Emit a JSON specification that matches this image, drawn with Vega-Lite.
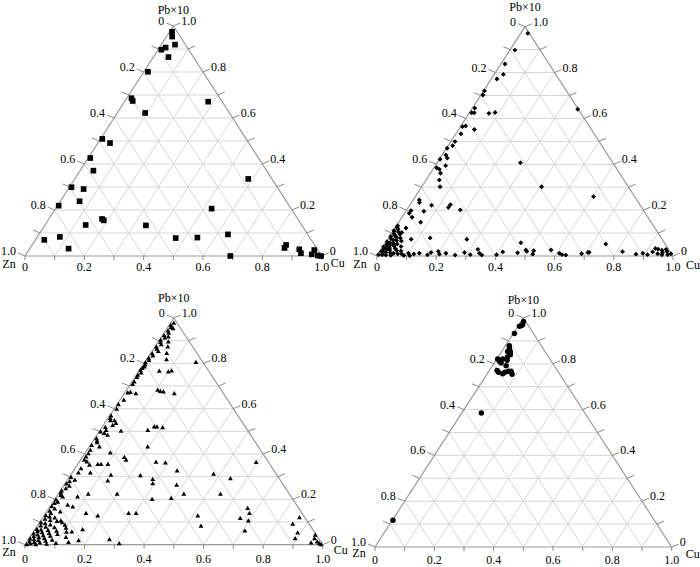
{
"$schema":"https://vega.github.io/schema/vega-lite/v6.json",
"padding":0,"spacing":0,"bounds":"flush","columns":2,
"config":{"view":{"stroke":null},"text":{"font":"Liberation Serif, Times New Roman, serif","fontSize":12,"color":"#000"}},
"datasets":{
"grid":[
{"k":"g","cu":0,"pb":0.1,"cu2":0.9,"pb2":0.1},{"k":"g","cu":0.1,"pb":0,"cu2":0.1,"pb2":0.9},{"k":"g","cu":0.9,"pb":0,"cu2":0,"pb2":0.9},
{"k":"g","cu":0,"pb":0.2,"cu2":0.8,"pb2":0.2},{"k":"g","cu":0.2,"pb":0,"cu2":0.2,"pb2":0.8},{"k":"g","cu":0.8,"pb":0,"cu2":0,"pb2":0.8},
{"k":"g","cu":0,"pb":0.3,"cu2":0.7,"pb2":0.3},{"k":"g","cu":0.3,"pb":0,"cu2":0.3,"pb2":0.7},{"k":"g","cu":0.7,"pb":0,"cu2":0,"pb2":0.7},
{"k":"g","cu":0,"pb":0.4,"cu2":0.6,"pb2":0.4},{"k":"g","cu":0.4,"pb":0,"cu2":0.4,"pb2":0.6},{"k":"g","cu":0.6,"pb":0,"cu2":0,"pb2":0.6},
{"k":"g","cu":0,"pb":0.5,"cu2":0.5,"pb2":0.5},{"k":"g","cu":0.5,"pb":0,"cu2":0.5,"pb2":0.5},{"k":"g","cu":0.5,"pb":0,"cu2":0,"pb2":0.5},
{"k":"g","cu":0,"pb":0.6,"cu2":0.4,"pb2":0.6},{"k":"g","cu":0.6,"pb":0,"cu2":0.6,"pb2":0.4},{"k":"g","cu":0.4,"pb":0,"cu2":0,"pb2":0.4},
{"k":"g","cu":0,"pb":0.7,"cu2":0.3,"pb2":0.7},{"k":"g","cu":0.7,"pb":0,"cu2":0.7,"pb2":0.3},{"k":"g","cu":0.3,"pb":0,"cu2":0,"pb2":0.3},
{"k":"g","cu":0,"pb":0.8,"cu2":0.2,"pb2":0.8},{"k":"g","cu":0.8,"pb":0,"cu2":0.8,"pb2":0.2},{"k":"g","cu":0.2,"pb":0,"cu2":0,"pb2":0.2},
{"k":"g","cu":0,"pb":0.9,"cu2":0.1,"pb2":0.9},{"k":"g","cu":0.9,"pb":0,"cu2":0.9,"pb2":0.1},{"k":"g","cu":0.1,"pb":0,"cu2":0,"pb2":0.1},
{"k":"b","cu":0,"pb":0,"cu2":1,"pb2":0},{"k":"b","cu":0,"pb":0,"cu2":0,"pb2":1},{"k":"b","cu":1,"pb":0,"cu2":0,"pb2":1}
],
"ticks":[
{"s":"L","cu":0,"pb":1,"lab":"0"},{"s":"L","cu":0,"pb":0.9,"lab":""},{"s":"L","cu":0,"pb":0.8,"lab":"0.2"},{"s":"L","cu":0,"pb":0.7,"lab":""},{"s":"L","cu":0,"pb":0.6,"lab":"0.4"},{"s":"L","cu":0,"pb":0.5,"lab":""},{"s":"L","cu":0,"pb":0.4,"lab":"0.6"},{"s":"L","cu":0,"pb":0.3,"lab":""},{"s":"L","cu":0,"pb":0.2,"lab":"0.8"},{"s":"L","cu":0,"pb":0.1,"lab":""},{"s":"L","cu":0,"pb":0,"lab":"1.0"},
{"s":"R","cu":1,"pb":0,"lab":"0"},{"s":"R","cu":0.9,"pb":0.1,"lab":""},{"s":"R","cu":0.8,"pb":0.2,"lab":"0.2"},{"s":"R","cu":0.7,"pb":0.3,"lab":""},{"s":"R","cu":0.6,"pb":0.4,"lab":"0.4"},{"s":"R","cu":0.5,"pb":0.5,"lab":""},{"s":"R","cu":0.4,"pb":0.6,"lab":"0.6"},{"s":"R","cu":0.3,"pb":0.7,"lab":""},{"s":"R","cu":0.2,"pb":0.8,"lab":"0.8"},{"s":"R","cu":0.1,"pb":0.9,"lab":""},{"s":"R","cu":0,"pb":1,"lab":"1.0"},
{"s":"B","cu":0,"pb":0,"lab":"0"},{"s":"B","cu":0.1,"pb":0,"lab":""},{"s":"B","cu":0.2,"pb":0,"lab":"0.2"},{"s":"B","cu":0.3,"pb":0,"lab":""},{"s":"B","cu":0.4,"pb":0,"lab":"0.4"},{"s":"B","cu":0.5,"pb":0,"lab":""},{"s":"B","cu":0.6,"pb":0,"lab":"0.6"},{"s":"B","cu":0.7,"pb":0,"lab":""},{"s":"B","cu":0.8,"pb":0,"lab":"0.8"},{"s":"B","cu":0.9,"pb":0,"lab":""},{"s":"B","cu":1,"pb":0,"lab":"1.0"}
],
"vert":[{"v":"Zn","cu":0,"pb":0},{"v":"Cu","cu":1,"pb":0},{"v":"Pb×10","cu":0,"pb":1}],
"pts":[
{"p":"a","cu":0.008,"pb":0.975},{"p":"a","cu":0.019,"pb":0.954},{"p":"a","cu":0.046,"pb":0.919},{"p":"a","cu":0.021,"pb":0.906},{"p":"a","cu":0.011,"pb":0.897},{"p":"a","cu":0.051,"pb":0.865},{"p":"a","cu":0.014,"pb":0.801},{"p":"a","cu":0.016,"pb":0.686},{"p":"a","cu":0.026,"pb":0.674},{"p":"a","cu":0.282,"pb":0.671},{"p":"a","cu":0.094,"pb":0.622},{"p":"a","cu":0.006,"pb":0.509},{"p":"a","cu":0.041,"pb":0.491},{"p":"a","cu":0.007,"pb":0.426},{"p":"a","cu":0.045,"pb":0.371},{"p":"a","cu":0.585,"pb":0.335},{"p":"a","cu":0.007,"pb":0.299},{"p":"a","cu":0.052,"pb":0.291},{"p":"a","cu":0.065,"pb":0.238},{"p":"a","cu":0.004,"pb":0.219},{"p":"a","cu":0.526,"pb":0.206},{"p":"a","cu":0.179,"pb":0.161},{"p":"a","cu":0.188,"pb":0.155},{"p":"a","cu":0.137,"pb":0.135},{"p":"a","cu":0.341,"pb":0.133},{"p":"a","cu":0.637,"pb":0.094},{"p":"a","cu":0.076,"pb":0.083},{"p":"a","cu":0.03,"pb":0.07},{"p":"a","cu":0.469,"pb":0.078},{"p":"a","cu":0.541,"pb":0.08},{"p":"a","cu":0.131,"pb":0.032},{"p":"a","cu":0.692,"pb":0.0},{"p":"a","cu":0.856,"pb":0.048},{"p":"a","cu":0.857,"pb":0.035},{"p":"a","cu":0.91,"pb":0.029},{"p":"a","cu":0.924,"pb":0.012},{"p":"a","cu":0.962,"pb":0.026},{"p":"a","cu":0.963,"pb":0.007},{"p":"a","cu":0.986,"pb":0.002},{"p":"a","cu":0.998,"pb":0.0},
{"p":"b","cu":0.024,"pb":0.971},{"p":"b","cu":0.017,"pb":0.898},{"p":"b","cu":0.014,"pb":0.837},{"p":"b","cu":0.031,"pb":0.792},{"p":"b","cu":0.019,"pb":0.772},{"p":"b","cu":0.003,"pb":0.72},{"p":"b","cu":0.007,"pb":0.702},{"p":"b","cu":0.358,"pb":0.64},{"p":"b","cu":0.008,"pb":0.645},{"p":"b","cu":0.007,"pb":0.625},{"p":"b","cu":0.016,"pb":0.625},{"p":"b","cu":0.067,"pb":0.622},{"p":"b","cu":0.086,"pb":0.626},{"p":"b","cu":0.007,"pb":0.564},{"p":"b","cu":0.016,"pb":0.567},{"p":"b","cu":0.053,"pb":0.552},{"p":"b","cu":0.017,"pb":0.533},{"p":"b","cu":0.014,"pb":0.499},{"p":"b","cu":0.015,"pb":0.481},{"p":"b","cu":0.002,"pb":0.47},{"p":"b","cu":0.013,"pb":0.44},{"p":"b","cu":0.024,"pb":0.427},{"p":"b","cu":0.002,"pb":0.422},{"p":"b","cu":0.281,"pb":0.407},{"p":"b","cu":0.035,"pb":0.394},{"p":"b","cu":0.009,"pb":0.385},{"p":"b","cu":0.022,"pb":0.378},{"p":"b","cu":0.034,"pb":0.361},{"p":"b","cu":0.045,"pb":0.331},{"p":"b","cu":0.062,"pb":0.302},{"p":"b","cu":0.405,"pb":0.302},{"p":"b","cu":0.602,"pb":0.259},{"p":"b","cu":0.021,"pb":0.244},{"p":"b","cu":0.027,"pb":0.233},{"p":"b","cu":0.074,"pb":0.221},{"p":"b","cu":0.136,"pb":0.224},{"p":"b","cu":0.135,"pb":0.212},{"p":"b","cu":0.016,"pb":0.198},{"p":"b","cu":0.016,"pb":0.186},{"p":"b","cu":0.061,"pb":0.195},{"p":"b","cu":0.181,"pb":0.201},{"p":"b","cu":0.034,"pb":0.169},{"p":"b","cu":0.074,"pb":0.147},{"p":"b","cu":0.004,"pb":0.132},{"p":"b","cu":0.037,"pb":0.122},{"p":"b","cu":0.004,"pb":0.109},{"p":"b","cu":0.032,"pb":0.103},{"p":"b","cu":0.079,"pb":0.073},{"p":"b","cu":0.14,"pb":0.079},{"p":"b","cu":0.267,"pb":0.073},{"p":"b","cu":0.457,"pb":0.058},{"p":"b","cu":0.747,"pb":0.052},{"p":"b","cu":0.326,"pb":0.029},{"p":"b","cu":0.575,"pb":0.026},{"p":"b","cu":0.49,"pb":0.026},{"p":"b","cu":0.518,"pb":0.023},{"p":"b","cu":0.82,"pb":0.019},{"p":"b","cu":0.709,"pb":0.016},{"p":"b","cu":0.962,"pb":0.029},{"p":"b","cu":0.924,"pb":0.033},
{"p":"b","cu":0.137,"pb":0.012},{"p":"b","cu":0.168,"pb":0.005},{"p":"b","cu":0.175,"pb":0.015},{"p":"b","cu":0.197,"pb":0.02},{"p":"b","cu":0.207,"pb":0.008},{"p":"b","cu":0.227,"pb":0.012},{"p":"b","cu":0.262,"pb":0.004},{"p":"b","cu":0.288,"pb":0.015},{"p":"b","cu":0.312,"pb":0.006},{"p":"b","cu":0.34,"pb":0.012},{"p":"b","cu":0.352,"pb":0.004},{"p":"b","cu":0.401,"pb":0.006},{"p":"b","cu":0.416,"pb":0.018},{"p":"b","cu":0.468,"pb":0.014},{"p":"b","cu":0.496,"pb":0.02},{"p":"b","cu":0.522,"pb":0.008},{"p":"b","cu":0.61,"pb":0.012},{"p":"b","cu":0.622,"pb":0.006},{"p":"b","cu":0.636,"pb":0.004},{"p":"b","cu":0.686,"pb":0.01},{"p":"b","cu":0.705,"pb":0.015},{"p":"b","cu":0.871,"pb":0.008},{"p":"b","cu":0.892,"pb":0.012},{"p":"b","cu":0.911,"pb":0.006},{"p":"b","cu":0.922,"pb":0.018},{"p":"b","cu":0.943,"pb":0.01},{"p":"b","cu":0.957,"pb":0.015},{"p":"b","cu":0.979,"pb":0.006},{"p":"b","cu":0.988,"pb":0.01},{"p":"b","cu":0.95,"pb":0.025},{"p":"b","cu":0.935,"pb":0.03},{"p":"b","cu":0.97,"pb":0.02},{"p":"b","cu":0.96,"pb":0.005},
{"p":"b","cu":0.005,"pb":0.125},{"p":"b","cu":0.012,"pb":0.118},{"p":"b","cu":0.002,"pb":0.11},{"p":"b","cu":0.02,"pb":0.105},{"p":"b","cu":0.008,"pb":0.098},{"p":"b","cu":0.03,"pb":0.095},{"p":"b","cu":0.015,"pb":0.09},{"p":"b","cu":0.004,"pb":0.085},{"p":"b","cu":0.025,"pb":0.082},{"p":"b","cu":0.04,"pb":0.078},{"p":"b","cu":0.01,"pb":0.075},{"p":"b","cu":0.02,"pb":0.07},{"p":"b","cu":0.032,"pb":0.068},{"p":"b","cu":0.05,"pb":0.065},{"p":"b","cu":0.003,"pb":0.062},{"p":"b","cu":0.015,"pb":0.058},{"p":"b","cu":0.028,"pb":0.055},{"p":"b","cu":0.042,"pb":0.052},{"p":"b","cu":0.008,"pb":0.05},{"p":"b","cu":0.02,"pb":0.047},{"p":"b","cu":0.035,"pb":0.045},{"p":"b","cu":0.06,"pb":0.042},{"p":"b","cu":0.002,"pb":0.04},{"p":"b","cu":0.013,"pb":0.038},{"p":"b","cu":0.025,"pb":0.035},{"p":"b","cu":0.045,"pb":0.033},{"p":"b","cu":0.007,"pb":0.03},{"p":"b","cu":0.018,"pb":0.028},{"p":"b","cu":0.03,"pb":0.026},{"p":"b","cu":0.055,"pb":0.024},{"p":"b","cu":0.07,"pb":0.022},{"p":"b","cu":0.004,"pb":0.02},{"p":"b","cu":0.012,"pb":0.018},{"p":"b","cu":0.022,"pb":0.016},{"p":"b","cu":0.038,"pb":0.014},{"p":"b","cu":0.05,"pb":0.012},{"p":"b","cu":0.065,"pb":0.01},{"p":"b","cu":0.08,"pb":0.008},{"p":"b","cu":0.002,"pb":0.006},{"p":"b","cu":0.015,"pb":0.005},{"p":"b","cu":0.028,"pb":0.004},{"p":"b","cu":0.045,"pb":0.003},{"p":"b","cu":0.09,"pb":0.002},{"p":"b","cu":0.11,"pb":0.001},{"p":"b","cu":0.1,"pb":0.012},{"p":"b","cu":0.12,"pb":0.009},
{"p":"c","cu":0.01,"pb":0.98},{"p":"c","cu":0.005,"pb":0.97},{"p":"c","cu":0.01,"pb":0.96},{"p":"c","cu":0.02,"pb":0.955},{"p":"c","cu":0.008,"pb":0.945},{"p":"c","cu":0.015,"pb":0.935},{"p":"c","cu":0.005,"pb":0.925},{"p":"c","cu":0.012,"pb":0.915},{"p":"c","cu":0.003,"pb":0.905},{"p":"c","cu":0.008,"pb":0.895},{"p":"c","cu":0.015,"pb":0.885},{"p":"c","cu":0.004,"pb":0.875},{"p":"c","cu":0.01,"pb":0.865},{"p":"c","cu":0.02,"pb":0.855},{"p":"c","cu":0.005,"pb":0.845},{"p":"c","cu":0.012,"pb":0.835},{"p":"c","cu":0.003,"pb":0.825},{"p":"c","cu":0.009,"pb":0.815},{"p":"c","cu":0.002,"pb":0.805},{"p":"c","cu":0.006,"pb":0.795},{"p":"c","cu":0.004,"pb":0.78},{"p":"c","cu":0.01,"pb":0.76},{"p":"c","cu":0.004,"pb":0.75},
{"p":"c","cu":0.022,"pb":0.919},{"p":"c","cu":0.033,"pb":0.897},{"p":"c","cu":0.042,"pb":0.875},{"p":"c","cu":0.053,"pb":0.846},{"p":"c","cu":0.066,"pb":0.819},{"p":"c","cu":0.171,"pb":0.806},{"p":"c","cu":0.067,"pb":0.768},{"p":"c","cu":0.099,"pb":0.765},{"p":"c","cu":0.108,"pb":0.769},{"p":"c","cu":0.002,"pb":0.772},{"p":"c","cu":0.007,"pb":0.787},{"p":"c","cu":0.006,"pb":0.74},{"p":"c","cu":0.007,"pb":0.72},{"p":"c","cu":0.007,"pb":0.709},{"p":"c","cu":0.009,"pb":0.672},{"p":"c","cu":0.017,"pb":0.674},{"p":"c","cu":0.038,"pb":0.669},{"p":"c","cu":0.104,"pb":0.684},{"p":"c","cu":0.115,"pb":0.679},{"p":"c","cu":0.127,"pb":0.676},{"p":"c","cu":0.167,"pb":0.669},
{"p":"c","cu":0.007,"pb":0.559},{"p":"c","cu":0.026,"pb":0.549},{"p":"c","cu":0.037,"pb":0.537},{"p":"c","cu":0.03,"pb":0.529},{"p":"c","cu":0.019,"pb":0.507},{"p":"c","cu":0.02,"pb":0.493},{"p":"c","cu":0.035,"pb":0.485},{"p":"c","cu":0.071,"pb":0.503},{"p":"c","cu":0.173,"pb":0.522},{"p":"c","cu":0.182,"pb":0.522},{"p":"c","cu":0.203,"pb":0.519},{"p":"c","cu":0.159,"pb":0.507},{"p":"c","cu":0.195,"pb":0.434},{"p":"c","cu":0.016,"pb":0.452},{"p":"c","cu":0.033,"pb":0.434},{"p":"c","cu":0.01,"pb":0.419},{"p":"c","cu":0.011,"pb":0.404},{"p":"c","cu":0.01,"pb":0.39},{"p":"c","cu":0.012,"pb":0.375},{"p":"c","cu":0.024,"pb":0.368},{"p":"c","cu":0.04,"pb":0.353},{"p":"c","cu":0.066,"pb":0.357},{"p":"c","cu":0.077,"pb":0.357},{"p":"c","cu":0.1,"pb":0.357},{"p":"c","cu":0.083,"pb":0.407},{"p":"c","cu":0.14,"pb":0.387},{"p":"c","cu":0.152,"pb":0.375},{"p":"c","cu":0.257,"pb":0.366},{"p":"c","cu":0.29,"pb":0.363},{"p":"c","cu":0.347,"pb":0.328},{"p":"c","cu":0.594,"pb":0.365},{"p":"c","cu":0.019,"pb":0.338},{"p":"c","cu":0.02,"pb":0.319},{"p":"c","cu":0.06,"pb":0.319},{"p":"c","cu":0.134,"pb":0.309},{"p":"c","cu":0.234,"pb":0.307},{"p":"c","cu":0.284,"pb":0.29},{"p":"c","cu":0.293,"pb":0.272},{"p":"c","cu":0.377,"pb":0.265},{"p":"c","cu":0.477,"pb":0.313},{"p":"c","cu":0.543,"pb":0.294},{"p":"c","cu":0.136,"pb":0.284},{"p":"c","cu":0.005,"pb":0.299},{"p":"c","cu":0.019,"pb":0.26},{"p":"c","cu":0.024,"pb":0.287},{"p":"c","cu":0.1,"pb":0.225},{"p":"c","cu":0.07,"pb":0.213},{"p":"c","cu":0.005,"pb":0.231},{"p":"c","cu":0.02,"pb":0.213},{"p":"c","cu":0.007,"pb":0.184},{"p":"c","cu":0.055,"pb":0.177},{"p":"c","cu":0.076,"pb":0.169},{"p":"c","cu":0.197,"pb":0.225},{"p":"c","cu":0.326,"pb":0.202},{"p":"c","cu":0.388,"pb":0.206},{"p":"c","cu":0.421,"pb":0.225},{"p":"c","cu":0.544,"pb":0.225},{"p":"c","cu":0.017,"pb":0.14},{"p":"c","cu":0.045,"pb":0.147},{"p":"c","cu":0.067,"pb":0.107},{"p":"c","cu":0.135,"pb":0.14},{"p":"c","cu":0.18,"pb":0.129},{"p":"c","cu":0.278,"pb":0.14},{"p":"c","cu":0.303,"pb":0.14},{"p":"c","cu":0.516,"pb":0.129},{"p":"c","cu":0.667,"pb":0.162},{"p":"c","cu":0.684,"pb":0.14},{"p":"c","cu":0.664,"pb":0.118},{"p":"c","cu":0.697,"pb":0.107},{"p":"c","cu":0.861,"pb":0.122},{"p":"c","cu":0.853,"pb":0.093},{"p":"c","cu":0.889,"pb":0.054},{"p":"c","cu":0.893,"pb":0.029},{"p":"c","cu":0.549,"pb":0.084},{"p":"c","cu":0.707,"pb":0.063},{"p":"c","cu":0.159,"pb":0.069},{"p":"c","cu":0.128,"pb":0.059},{"p":"c","cu":0.271,"pb":0.025},{"p":"c","cu":0.313,"pb":0.007},
{"p":"c","cu":0.958,"pb":0.029},{"p":"c","cu":0.974,"pb":0.015},{"p":"c","cu":0.985,"pb":0.007},{"p":"c","cu":0.956,"pb":0.01},{"p":"c","cu":0.993,"pb":0.003},{"p":"c","cu":0.953,"pb":0.044},
{"p":"c","cu":0.005,"pb":0.13},{"p":"c","cu":0.02,"pb":0.125},{"p":"c","cu":0.04,"pb":0.12},{"p":"c","cu":0.01,"pb":0.115},{"p":"c","cu":0.03,"pb":0.11},{"p":"c","cu":0.055,"pb":0.105},{"p":"c","cu":0.004,"pb":0.1},{"p":"c","cu":0.075,"pb":0.1},{"p":"c","cu":0.02,"pb":0.095},{"p":"c","cu":0.04,"pb":0.09},{"p":"c","cu":0.09,"pb":0.088},{"p":"c","cu":0.01,"pb":0.085},{"p":"c","cu":0.03,"pb":0.08},{"p":"c","cu":0.06,"pb":0.078},{"p":"c","cu":0.1,"pb":0.075},{"p":"c","cu":0.005,"pb":0.07},{"p":"c","cu":0.02,"pb":0.068},{"p":"c","cu":0.045,"pb":0.065},{"p":"c","cu":0.075,"pb":0.062},{"p":"c","cu":0.012,"pb":0.06},{"p":"c","cu":0.11,"pb":0.058},{"p":"c","cu":0.03,"pb":0.055},{"p":"c","cu":0.055,"pb":0.052},{"p":"c","cu":0.004,"pb":0.05},{"p":"c","cu":0.085,"pb":0.048},{"p":"c","cu":0.02,"pb":0.045},{"p":"c","cu":0.04,"pb":0.042},{"p":"c","cu":0.065,"pb":0.04},{"p":"c","cu":0.01,"pb":0.038},{"p":"c","cu":0.12,"pb":0.035},{"p":"c","cu":0.03,"pb":0.033},{"p":"c","cu":0.05,"pb":0.03},{"p":"c","cu":0.003,"pb":0.028},{"p":"c","cu":0.018,"pb":0.025},{"p":"c","cu":0.08,"pb":0.022},{"p":"c","cu":0.035,"pb":0.02},{"p":"c","cu":0.06,"pb":0.018},{"p":"c","cu":0.008,"pb":0.015},{"p":"c","cu":0.025,"pb":0.012},{"p":"c","cu":0.045,"pb":0.01},{"p":"c","cu":0.1,"pb":0.008},{"p":"c","cu":0.015,"pb":0.006},{"p":"c","cu":0.07,"pb":0.005},{"p":"c","cu":0.004,"pb":0.003},{"p":"c","cu":0.035,"pb":0.002},{"p":"c","cu":0.14,"pb":0.012},{"p":"c","cu":0.17,"pb":0.02},
{"p":"c","cu":0.01,"pb":0.28},{"p":"c","cu":0.005,"pb":0.27},{"p":"c","cu":0.012,"pb":0.25},{"p":"c","cu":0.003,"pb":0.24},{"p":"c","cu":0.01,"pb":0.22},{"p":"c","cu":0.004,"pb":0.2},{"p":"c","cu":0.015,"pb":0.19},{"p":"c","cu":0.005,"pb":0.17},{"p":"c","cu":0.02,"pb":0.16},{"p":"c","cu":0.008,"pb":0.15},{"p":"c","cu":0.005,"pb":0.47},{"p":"c","cu":0.012,"pb":0.46},{"p":"c","cu":0.004,"pb":0.44},{"p":"c","cu":0.01,"pb":0.52},{"p":"c","cu":0.004,"pb":0.5},{"p":"c","cu":0.012,"pb":0.55},{"p":"c","cu":0.004,"pb":0.57},{"p":"c","cu":0.008,"pb":0.6},{"p":"c","cu":0.004,"pb":0.62},{"p":"c","cu":0.012,"pb":0.64},
{"p":"d","cu":0.008,"pb":0.985},{"p":"d","cu":0.012,"pb":0.971},{"p":"d","cu":0.005,"pb":0.964},{"p":"d","cu":0.01,"pb":0.967},{"p":"d","cu":0.004,"pb":0.932},{"p":"d","cu":0.013,"pb":0.879},{"p":"d","cu":0.019,"pb":0.868},{"p":"d","cu":0.02,"pb":0.854},{"p":"d","cu":0.029,"pb":0.854},{"p":"d","cu":0.036,"pb":0.84},{"p":"d","cu":0.032,"pb":0.83},{"p":"d","cu":0.038,"pb":0.815},{"p":"d","cu":0.003,"pb":0.821},{"p":"d","cu":0.014,"pb":0.811},{"p":"d","cu":0.023,"pb":0.804},{"p":"d","cu":0.02,"pb":0.821},{"p":"d","cu":0.046,"pb":0.792},{"p":"d","cu":0.026,"pb":0.771},{"p":"d","cu":0.035,"pb":0.763},{"p":"d","cu":0.052,"pb":0.757},{"p":"d","cu":0.056,"pb":0.763},{"p":"d","cu":0.066,"pb":0.767},{"p":"d","cu":0.075,"pb":0.767},{"p":"d","cu":0.085,"pb":0.754},{"p":"d","cu":0.066,"pb":0.585},{"p":"d","cu":0.002,"pb":0.117}
]
},
"concat":[
{"width":350,"height":283,
"encoding":{"x":{"field":"x","type":"quantitative","scale":{"domain":[-0.0809,1.0988],"nice":false,"zero":false},"axis":null},"y":{"field":"pb","type":"quantitative","scale":{"domain":[-0.1174,1.113],"nice":false,"zero":false},"axis":null}},
"layer":[
{"data":{"name":"grid"},"transform":[{"filter":"datum.k=='g'"},{"calculate":"datum.cu+datum.pb/2","as":"x"},{"calculate":"datum.cu2+datum.pb2/2","as":"xe"}],"mark":{"type":"rule","color":"#d6d6d6","strokeWidth":1},"encoding":{"x2":{"field":"xe"},"y2":{"field":"pb2"}}},
{"data":{"name":"grid"},"transform":[{"filter":"datum.k=='b'"},{"calculate":"datum.cu+datum.pb/2","as":"x"},{"calculate":"datum.cu2+datum.pb2/2","as":"xe"}],"mark":{"type":"rule","color":"#999999","strokeWidth":1.2},"encoding":{"x2":{"field":"xe"},"y2":{"field":"pb2"}}},
{"data":{"name":"ticks"},"transform":[{"filter":"datum.s=='L'"},{"calculate":"datum.cu+datum.pb/2","as":"x"}],"mark":{"type":"rule","color":"#888888","x2Offset":-7,"y2Offset":-3},"encoding":{"x2":{"field":"x"},"y2":{"field":"pb"}}},
{"data":{"name":"ticks"},"transform":[{"filter":"datum.s=='R'"},{"calculate":"datum.cu+datum.pb/2","as":"x"}],"mark":{"type":"rule","color":"#888888","x2Offset":7,"y2Offset":-3},"encoding":{"x2":{"field":"x"},"y2":{"field":"pb"}}},
{"data":{"name":"ticks"},"transform":[{"filter":"datum.s=='B'"},{"calculate":"datum.cu+datum.pb/2","as":"x"}],"mark":{"type":"rule","color":"#888888","y2Offset":4},"encoding":{"x2":{"field":"x"},"y2":{"field":"pb"}}},
{"data":{"name":"ticks"},"transform":[{"filter":"datum.s=='L' && datum.lab!=''"},{"calculate":"datum.cu+datum.pb/2","as":"x"}],"mark":{"type":"text","align":"right","baseline":"middle","dx":-9,"dy":-5},"encoding":{"text":{"field":"lab"}}},
{"data":{"name":"ticks"},"transform":[{"filter":"datum.s=='R' && datum.lab!=''"},{"calculate":"datum.cu+datum.pb/2","as":"x"}],"mark":{"type":"text","align":"left","baseline":"middle","dx":8,"dy":-5},"encoding":{"text":{"field":"lab"}}},
{"data":{"name":"ticks"},"transform":[{"filter":"datum.s=='B' && datum.lab!=''"},{"calculate":"datum.cu+datum.pb/2","as":"x"}],"mark":{"type":"text","align":"center","baseline":"middle","dy":11},"encoding":{"text":{"field":"lab"}}},
{"data":{"name":"vert"},"transform":[{"filter":"datum.v=='Zn'"},{"calculate":"datum.cu+datum.pb/2","as":"x"}],"mark":{"type":"text","align":"center","baseline":"middle","dx":-16,"dy":8},"encoding":{"text":{"field":"v"}}},
{"data":{"name":"vert"},"transform":[{"filter":"datum.v=='Cu'"},{"calculate":"datum.cu+datum.pb/2","as":"x"}],"mark":{"type":"text","align":"center","baseline":"middle","dx":16,"dy":7},"encoding":{"text":{"field":"v"}}},
{"data":{"name":"vert"},"transform":[{"filter":"datum.v=='Pb×10'"},{"calculate":"datum.cu+datum.pb/2","as":"x"}],"mark":{"type":"text","align":"center","baseline":"middle","dy":-16},"encoding":{"text":{"field":"v"}}},
{"data":{"values":[{"lab":"a"}]},"mark":{"type":"text","align":"center","baseline":"middle"},"encoding":{"x":{"datum":0.037},"y":{"datum":0.917},"text":{"field":"lab"}}},
{"data":{"name":"pts"},"transform":[{"filter":"datum.p=='a'"},{"calculate":"datum.cu+datum.pb/2","as":"x"}],"mark":{"type":"point","shape":"square","filled":true,"size":32,"color":"#000000","opacity":1}}
]},
{"width":350,"height":283,
"encoding":{"x":{"field":"x","type":"quantitative","scale":{"domain":[-0.0878,1.0946],"nice":false,"zero":false},"axis":null},"y":{"field":"pb","type":"quantitative","scale":{"domain":[-0.1177,1.1164],"nice":false,"zero":false},"axis":null}},
"layer":[
{"data":{"name":"grid"},"transform":[{"filter":"datum.k=='g'"},{"calculate":"datum.cu+datum.pb/2","as":"x"},{"calculate":"datum.cu2+datum.pb2/2","as":"xe"}],"mark":{"type":"rule","color":"#d6d6d6","strokeWidth":1},"encoding":{"x2":{"field":"xe"},"y2":{"field":"pb2"}}},
{"data":{"name":"grid"},"transform":[{"filter":"datum.k=='b'"},{"calculate":"datum.cu+datum.pb/2","as":"x"},{"calculate":"datum.cu2+datum.pb2/2","as":"xe"}],"mark":{"type":"rule","color":"#999999","strokeWidth":1.2},"encoding":{"x2":{"field":"xe"},"y2":{"field":"pb2"}}},
{"data":{"name":"ticks"},"transform":[{"filter":"datum.s=='L'"},{"calculate":"datum.cu+datum.pb/2","as":"x"}],"mark":{"type":"rule","color":"#888888","x2Offset":-7,"y2Offset":-3},"encoding":{"x2":{"field":"x"},"y2":{"field":"pb"}}},
{"data":{"name":"ticks"},"transform":[{"filter":"datum.s=='R'"},{"calculate":"datum.cu+datum.pb/2","as":"x"}],"mark":{"type":"rule","color":"#888888","x2Offset":7,"y2Offset":-3},"encoding":{"x2":{"field":"x"},"y2":{"field":"pb"}}},
{"data":{"name":"ticks"},"transform":[{"filter":"datum.s=='B'"},{"calculate":"datum.cu+datum.pb/2","as":"x"}],"mark":{"type":"rule","color":"#888888","y2Offset":4},"encoding":{"x2":{"field":"x"},"y2":{"field":"pb"}}},
{"data":{"name":"ticks"},"transform":[{"filter":"datum.s=='L' && datum.lab!=''"},{"calculate":"datum.cu+datum.pb/2","as":"x"}],"mark":{"type":"text","align":"right","baseline":"middle","dx":-9,"dy":-5},"encoding":{"text":{"field":"lab"}}},
{"data":{"name":"ticks"},"transform":[{"filter":"datum.s=='R' && datum.lab!=''"},{"calculate":"datum.cu+datum.pb/2","as":"x"}],"mark":{"type":"text","align":"left","baseline":"middle","dx":8,"dy":-5},"encoding":{"text":{"field":"lab"}}},
{"data":{"name":"ticks"},"transform":[{"filter":"datum.s=='B' && datum.lab!=''"},{"calculate":"datum.cu+datum.pb/2","as":"x"}],"mark":{"type":"text","align":"center","baseline":"middle","dy":11},"encoding":{"text":{"field":"lab"}}},
{"data":{"name":"vert"},"transform":[{"filter":"datum.v=='Zn'"},{"calculate":"datum.cu+datum.pb/2","as":"x"}],"mark":{"type":"text","align":"center","baseline":"middle","dx":-17,"dy":8},"encoding":{"text":{"field":"v"}}},
{"data":{"name":"vert"},"transform":[{"filter":"datum.v=='Cu'"},{"calculate":"datum.cu+datum.pb/2","as":"x"}],"mark":{"type":"text","align":"center","baseline":"middle","dx":20,"dy":9},"encoding":{"text":{"field":"v"}}},
{"data":{"name":"vert"},"transform":[{"filter":"datum.v=='Pb×10'"},{"calculate":"datum.cu+datum.pb/2","as":"x"}],"mark":{"type":"text","align":"center","baseline":"middle","dy":-20},"encoding":{"text":{"field":"v"}}},
{"data":{"values":[{"lab":"b"}]},"mark":{"type":"text","align":"center","baseline":"middle"},"encoding":{"x":{"datum":0.04},"y":{"datum":0.929},"text":{"field":"lab"}}},
{"data":{"name":"pts"},"transform":[{"filter":"datum.p=='b'"},{"calculate":"datum.cu+datum.pb/2","as":"x"}],"mark":{"type":"point","shape":"diamond","filled":true,"size":24,"color":"#000000","opacity":1}}
]},
{"width":350,"height":284,
"encoding":{"x":{"field":"x","type":"quantitative","scale":{"domain":[-0.0806,1.0951],"nice":false,"zero":false},"axis":null},"y":{"field":"pb","type":"quantitative","scale":{"domain":[-0.0984,1.1544],"nice":false,"zero":false},"axis":null}},
"layer":[
{"data":{"name":"grid"},"transform":[{"filter":"datum.k=='g'"},{"calculate":"datum.cu+datum.pb/2","as":"x"},{"calculate":"datum.cu2+datum.pb2/2","as":"xe"}],"mark":{"type":"rule","color":"#d6d6d6","strokeWidth":1},"encoding":{"x2":{"field":"xe"},"y2":{"field":"pb2"}}},
{"data":{"name":"grid"},"transform":[{"filter":"datum.k=='b'"},{"calculate":"datum.cu+datum.pb/2","as":"x"},{"calculate":"datum.cu2+datum.pb2/2","as":"xe"}],"mark":{"type":"rule","color":"#999999","strokeWidth":1.2},"encoding":{"x2":{"field":"xe"},"y2":{"field":"pb2"}}},
{"data":{"name":"ticks"},"transform":[{"filter":"datum.s=='L'"},{"calculate":"datum.cu+datum.pb/2","as":"x"}],"mark":{"type":"rule","color":"#888888","x2Offset":-7,"y2Offset":-3},"encoding":{"x2":{"field":"x"},"y2":{"field":"pb"}}},
{"data":{"name":"ticks"},"transform":[{"filter":"datum.s=='R'"},{"calculate":"datum.cu+datum.pb/2","as":"x"}],"mark":{"type":"rule","color":"#888888","x2Offset":7,"y2Offset":-3},"encoding":{"x2":{"field":"x"},"y2":{"field":"pb"}}},
{"data":{"name":"ticks"},"transform":[{"filter":"datum.s=='B'"},{"calculate":"datum.cu+datum.pb/2","as":"x"}],"mark":{"type":"rule","color":"#888888","y2Offset":4},"encoding":{"x2":{"field":"x"},"y2":{"field":"pb"}}},
{"data":{"name":"ticks"},"transform":[{"filter":"datum.s=='L' && datum.lab!=''"},{"calculate":"datum.cu+datum.pb/2","as":"x"}],"mark":{"type":"text","align":"right","baseline":"middle","dx":-9,"dy":-5},"encoding":{"text":{"field":"lab"}}},
{"data":{"name":"ticks"},"transform":[{"filter":"datum.s=='R' && datum.lab!=''"},{"calculate":"datum.cu+datum.pb/2","as":"x"}],"mark":{"type":"text","align":"left","baseline":"middle","dx":8,"dy":-5},"encoding":{"text":{"field":"lab"}}},
{"data":{"name":"ticks"},"transform":[{"filter":"datum.s=='B' && datum.lab!=''"},{"calculate":"datum.cu+datum.pb/2","as":"x"}],"mark":{"type":"text","align":"center","baseline":"middle","dy":14},"encoding":{"text":{"field":"lab"}}},
{"data":{"name":"vert"},"transform":[{"filter":"datum.v=='Zn'"},{"calculate":"datum.cu+datum.pb/2","as":"x"}],"mark":{"type":"text","align":"center","baseline":"middle","dx":-16,"dy":7},"encoding":{"text":{"field":"v"}}},
{"data":{"name":"vert"},"transform":[{"filter":"datum.v=='Cu'"},{"calculate":"datum.cu+datum.pb/2","as":"x"}],"mark":{"type":"text","align":"center","baseline":"middle","dx":18,"dy":5},"encoding":{"text":{"field":"v"}}},
{"data":{"name":"vert"},"transform":[{"filter":"datum.v=='Pb×10'"},{"calculate":"datum.cu+datum.pb/2","as":"x"}],"mark":{"type":"text","align":"center","baseline":"middle","dy":-20},"encoding":{"text":{"field":"v"}}},
{"data":{"values":[{"lab":"c"}]},"mark":{"type":"text","align":"center","baseline":"middle"},"encoding":{"x":{"datum":0.044},"y":{"datum":0.934},"text":{"field":"lab"}}},
{"data":{"name":"pts"},"transform":[{"filter":"datum.p=='c'"},{"calculate":"datum.cu+datum.pb/2","as":"x"}],"mark":{"type":"point","shape":"triangle-up","filled":true,"size":24,"color":"#000000","opacity":1}}
]},
{"width":350,"height":284,
"encoding":{"x":{"field":"x","type":"quantitative","scale":{"domain":[-0.0809,1.0988],"nice":false,"zero":false},"axis":null},"y":{"field":"pb","type":"quantitative","scale":{"domain":[-0.0873,1.1528],"nice":false,"zero":false},"axis":null}},
"layer":[
{"data":{"name":"grid"},"transform":[{"filter":"datum.k=='g'"},{"calculate":"datum.cu+datum.pb/2","as":"x"},{"calculate":"datum.cu2+datum.pb2/2","as":"xe"}],"mark":{"type":"rule","color":"#d6d6d6","strokeWidth":1},"encoding":{"x2":{"field":"xe"},"y2":{"field":"pb2"}}},
{"data":{"name":"grid"},"transform":[{"filter":"datum.k=='b'"},{"calculate":"datum.cu+datum.pb/2","as":"x"},{"calculate":"datum.cu2+datum.pb2/2","as":"xe"}],"mark":{"type":"rule","color":"#999999","strokeWidth":1.2},"encoding":{"x2":{"field":"xe"},"y2":{"field":"pb2"}}},
{"data":{"name":"ticks"},"transform":[{"filter":"datum.s=='L'"},{"calculate":"datum.cu+datum.pb/2","as":"x"}],"mark":{"type":"rule","color":"#888888","x2Offset":-7,"y2Offset":-3},"encoding":{"x2":{"field":"x"},"y2":{"field":"pb"}}},
{"data":{"name":"ticks"},"transform":[{"filter":"datum.s=='R'"},{"calculate":"datum.cu+datum.pb/2","as":"x"}],"mark":{"type":"rule","color":"#888888","x2Offset":7,"y2Offset":-3},"encoding":{"x2":{"field":"x"},"y2":{"field":"pb"}}},
{"data":{"name":"ticks"},"transform":[{"filter":"datum.s=='B'"},{"calculate":"datum.cu+datum.pb/2","as":"x"}],"mark":{"type":"rule","color":"#888888","y2Offset":4},"encoding":{"x2":{"field":"x"},"y2":{"field":"pb"}}},
{"data":{"name":"ticks"},"transform":[{"filter":"datum.s=='L' && datum.lab!=''"},{"calculate":"datum.cu+datum.pb/2","as":"x"}],"mark":{"type":"text","align":"right","baseline":"middle","dx":-9,"dy":-5},"encoding":{"text":{"field":"lab"}}},
{"data":{"name":"ticks"},"transform":[{"filter":"datum.s=='R' && datum.lab!=''"},{"calculate":"datum.cu+datum.pb/2","as":"x"}],"mark":{"type":"text","align":"left","baseline":"middle","dx":8,"dy":-5},"encoding":{"text":{"field":"lab"}}},
{"data":{"name":"ticks"},"transform":[{"filter":"datum.s=='B' && datum.lab!=''"},{"calculate":"datum.cu+datum.pb/2","as":"x"}],"mark":{"type":"text","align":"center","baseline":"middle","dy":13},"encoding":{"text":{"field":"lab"}}},
{"data":{"name":"vert"},"transform":[{"filter":"datum.v=='Zn'"},{"calculate":"datum.cu+datum.pb/2","as":"x"}],"mark":{"type":"text","align":"center","baseline":"middle","dx":-16,"dy":6},"encoding":{"text":{"field":"v"}}},
{"data":{"name":"vert"},"transform":[{"filter":"datum.v=='Cu'"},{"calculate":"datum.cu+datum.pb/2","as":"x"}],"mark":{"type":"text","align":"center","baseline":"middle","dx":21,"dy":7},"encoding":{"text":{"field":"v"}}},
{"data":{"name":"vert"},"transform":[{"filter":"datum.v=='Pb×10'"},{"calculate":"datum.cu+datum.pb/2","as":"x"}],"mark":{"type":"text","align":"center","baseline":"middle","dy":-18},"encoding":{"text":{"field":"v"}}},
{"data":{"values":[{"lab":"d"}]},"mark":{"type":"text","align":"center","baseline":"middle"},"encoding":{"x":{"datum":0.044},"y":{"datum":0.934},"text":{"field":"lab"}}},
{"data":{"name":"pts"},"transform":[{"filter":"datum.p=='d'"},{"calculate":"datum.cu+datum.pb/2","as":"x"}],"mark":{"type":"point","shape":"circle","filled":true,"size":30,"color":"#000000","opacity":1}}
]}
]
}
